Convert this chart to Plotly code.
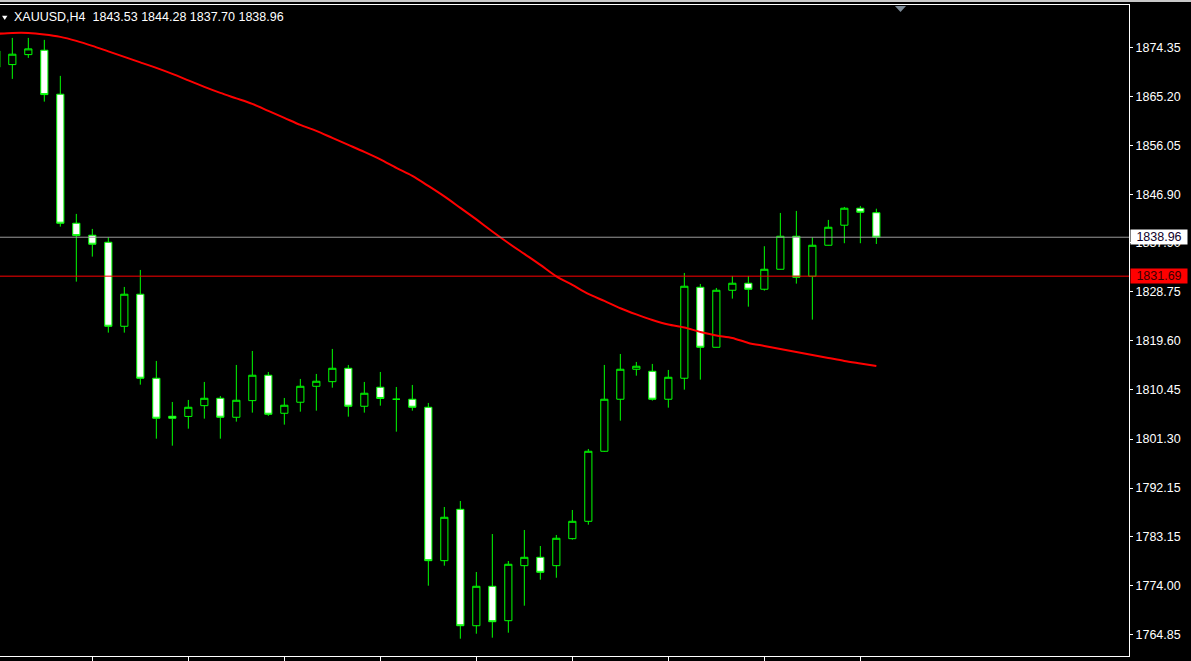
import plotly.graph_objects as go

# ---- data ----
bars = list(range(-1, 55))
opens = [1873.73, 1871.18, 1873.04, 1873.86, 1865.65, 1841.57, 1839.33, 1838.02, 1822.34, 1828.32,
         1812.64, 1805.54, 1805.51, 1807.52, 1808.90, 1805.36, 1808.46, 1813.20, 1806.10, 1808.16,
         1811.14, 1812.00, 1814.50, 1807.41, 1810.96, 1808.72, 1808.72, 1807.22, 1778.59, 1788.18,
         1766.45, 1773.81, 1767.39, 1777.66, 1779.22, 1777.66, 1782.70, 1785.94, 1799.01, 1808.72,
         1814.32, 1813.94, 1808.72, 1812.64, 1829.62, 1818.42, 1829.06, 1830.37, 1829.25, 1832.98,
         1839.14, 1831.68, 1837.46, 1841.20, 1844.37, 1843.53]
highs = [1875.00, 1876.16, 1876.16, 1875.79, 1869.07, 1843.31, 1840.51, 1838.96, 1829.68, 1832.85,
         1815.87, 1808.21, 1808.59, 1811.95, 1809.33, 1815.12, 1817.73, 1813.81, 1808.96, 1812.51,
         1813.44, 1818.11, 1815.12, 1811.95, 1813.81, 1811.01, 1811.39, 1808.03, 1788.61, 1789.73,
         1776.48, 1783.57, 1778.53, 1784.32, 1781.33, 1783.39, 1788.05, 1799.44, 1815.12, 1817.17,
         1815.68, 1815.31, 1814.19, 1832.29, 1830.24, 1829.49, 1831.73, 1831.73, 1837.28, 1843.49,
         1843.87, 1838.96, 1842.19, 1844.61, 1844.80, 1844.28]
lows = [1869.50, 1868.51, 1872.43, 1864.27, 1840.94, 1830.67, 1835.34, 1821.15, 1821.15, 1811.44,
        1801.36, 1800.05, 1803.23, 1805.10, 1801.36, 1804.54, 1806.22, 1805.60, 1803.98, 1806.40,
        1806.59, 1810.88, 1805.47, 1806.22, 1807.52, 1802.67, 1806.59, 1773.92, 1777.66, 1764.03,
        1764.96, 1764.22, 1765.15, 1770.19, 1775.04, 1775.41, 1782.51, 1785.31, 1798.90, 1804.72,
        1813.12, 1808.46, 1807.15, 1810.51, 1812.38, 1818.38, 1827.50, 1826.00, 1828.99, 1832.94,
        1830.30, 1823.58, 1837.42, 1837.84, 1837.84, 1837.70]
closes = [1870.69, 1873.12, 1874.11, 1865.58, 1841.57, 1839.26, 1837.65, 1822.34, 1828.32, 1812.64,
          1805.17, 1805.17, 1807.22, 1808.90, 1805.36, 1808.53, 1813.20, 1805.92, 1807.60, 1811.14,
          1812.08, 1814.50, 1807.41, 1809.84, 1808.87, 1808.72, 1807.22, 1778.59, 1786.69, 1766.45,
          1773.81, 1767.20, 1777.92, 1779.22, 1776.42, 1782.77, 1785.94, 1799.01, 1808.72, 1814.32,
          1814.88, 1808.72, 1812.82, 1829.81, 1818.42, 1829.06, 1830.37, 1829.25, 1832.98, 1839.14,
          1831.49, 1837.46, 1840.82, 1844.37, 1843.62, 1838.96]
ma = [1876.91, 1877.09, 1877.09, 1876.81, 1876.35, 1875.60, 1874.67, 1873.64, 1872.61, 1871.59,
      1870.56, 1869.44, 1868.23, 1867.01, 1865.89, 1864.87, 1863.84, 1862.53, 1861.23, 1859.92,
      1858.80, 1857.49, 1856.19, 1854.88, 1853.48, 1851.89, 1850.40, 1848.53, 1846.57, 1844.43,
      1842.28, 1840.04, 1837.89, 1835.84, 1833.79, 1831.64, 1830.05, 1828.37, 1827.07, 1825.70,
      1824.55, 1823.52, 1822.68, 1822.12, 1821.28, 1820.63, 1820.16, 1819.23, 1818.67, 1818.11,
      1817.55, 1816.99, 1816.43, 1815.87, 1815.40, 1814.93]

price_ticks = [1874.35, 1865.20, 1856.05, 1846.90, 1837.90, 1828.75, 1819.60,
               1810.45, 1801.30, 1792.15, 1783.15, 1774.00, 1764.85]
price_tick_text = ["1874.35", "1865.20", "1856.05", "1846.90", "1837.90", "1828.75", "1819.60",
                   "1810.45", "1801.30", "1792.15", "1783.15", "1774.00", "1764.85"]
time_ticks = [5, 11, 17, 23, 29, 35, 41, 47, 53]

symbol = "XAUUSD,H4"
bid_price = 1838.96
ask_level = 1831.69

FONT = "Liberation Sans, Arial, sans-serif"

fig = go.Figure()
fig.add_trace(go.Candlestick(
    x=bars, open=opens, high=highs, low=lows, close=closes,
    increasing=dict(line=dict(color="#00ff00", width=1), fillcolor="#000000"),
    decreasing=dict(line=dict(color="#00ff00", width=1), fillcolor="#ffffff"),
    whiskerwidth=0, hoverinfo="skip", showlegend=False,
))
fig.add_trace(go.Scatter(
    x=bars, y=ma, mode="lines", line=dict(color="#ff0000", width=2, shape="spline", smoothing=0.8),
    hoverinfo="skip", showlegend=False,
))

# horizontal price lines
fig.add_shape(type="line", xref="paper", x0=0, x1=1, yref="y", y0=bid_price, y1=bid_price,
              line=dict(color="#9a9a9a", width=1), layer="above")
fig.add_shape(type="line", xref="paper", x0=0, x1=1, yref="y", y0=ask_level, y1=ask_level,
              line=dict(color="#ff0000", width=1), layer="above")

# window top band
fig.add_shape(type="rect", xref="paper", yref="paper", x0=-0.01, x1=1.06,
              y0=1 + 3 / 651, y1=1 + 6 / 651, line=dict(width=0), fillcolor="#c8c8c8")
# chart-shift triangle
fig.add_shape(type="path", xref="paper", yref="paper",
              path="M 0.7927,0.9985 L 0.8025,0.9985 L 0.7976,0.9893 Z",
              line=dict(width=0), fillcolor="#7d8b98")
# small menu triangle
fig.add_shape(type="path", xref="paper", yref="paper",
              path="M 0.0018,0.9836 L 0.0066,0.9836 L 0.0042,0.9770 Z",
              line=dict(width=0), fillcolor="#ffffff")

header = symbol + "\u00a0\u00a0" + " ".join(f"{v:.2f}" for v in (opens[-1], highs[-1], lows[-1], closes[-1]))
fig.add_annotation(text=header, xref="paper", yref="paper", x=12 / 1129, y=(656 - 16.5) / 651,
                   xanchor="left", yanchor="middle", showarrow=False,
                   font=dict(family=FONT, size=12.5, color="#ffffff"))

# price labels on the axis
fig.add_annotation(text=f"{bid_price:.2f}", xref="paper", yref="y", x=1, y=bid_price,
                   xanchor="left", yanchor="middle", xshift=1, showarrow=False,
                   bgcolor="#ffffff", width=56, height=14, borderpad=0, align="center",
                   font=dict(family=FONT, size=12.5, color="#10002a"))
fig.add_annotation(text=f"{ask_level:.2f}", xref="paper", yref="y", x=1, y=ask_level,
                   xanchor="left", yanchor="middle", xshift=1, showarrow=False,
                   bgcolor="#ff0000", width=56, height=14, borderpad=0, align="center",
                   font=dict(family=FONT, size=12.5, color="#3a0000"))

fig.update_layout(
    width=1191, height=661,
    margin=dict(l=0, r=62, t=5, b=5),
    paper_bgcolor="#000000", plot_bgcolor="#000000",
    showlegend=False,
    boxgap=0.36,
    xaxis=dict(range=[-0.77, 69.79], rangeslider=dict(visible=False), showgrid=False,
               zeroline=False, showline=True, linecolor="#ffffff", linewidth=1, mirror=True,
               tickmode="array", tickvals=time_ticks, ticks="outside", ticklen=4,
               tickcolor="#ffffff", showticklabels=False, fixedrange=True),
    yaxis=dict(range=[1760.8, 1882.3], side="right", showgrid=False, zeroline=False,
               showline=True, linecolor="#ffffff", linewidth=1,
               tickmode="array", tickvals=price_ticks, ticktext=price_tick_text,
               ticks="outside", ticklen=3, tickcolor="#ffffff",
               tickfont=dict(family=FONT, size=12.5, color="#ffffff"), fixedrange=True),
)

fig.write_html(
    "out.html",
    config={"displayModeBar": False, "staticPlot": True},
    post_script="document.body.style.margin='0';document.body.style.padding='0';"
                "document.body.style.background='#000';"
                "document.documentElement.style.overflow='hidden';",
)
